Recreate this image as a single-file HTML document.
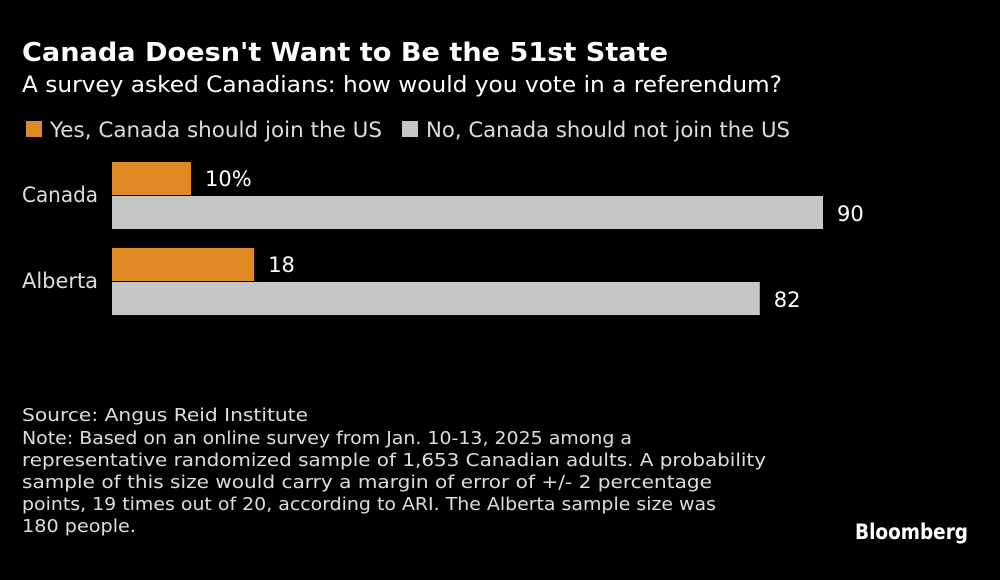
<!DOCTYPE html>
<html><head><meta charset="utf-8"><style>
html,body{margin:0;padding:0;background:#000;}
svg{display:block;font-family:"DejaVu Sans","Liberation Sans",sans-serif;}
</style></head><body>
<svg width="1000" height="580" viewBox="0 0 1000 580">
<rect width="1000" height="580" fill="#000"/>
<text x="22" y="61" fill="#fff" font-size="26" font-weight="bold" textLength="646" lengthAdjust="spacingAndGlyphs">Canada Doesn't Want to Be the 51st State</text>
<text x="22" y="92" fill="#fff" font-size="22" textLength="760" lengthAdjust="spacingAndGlyphs">A survey asked Canadians: how would you vote in a referendum?</text>
<g>
<rect x="26" y="121" width="16" height="16" fill="#e08a26"/>
<text x="50" y="137" fill="#ddd" font-size="21" textLength="332" lengthAdjust="spacingAndGlyphs">Yes, Canada should join the US</text>
<rect x="402" y="121" width="16" height="16" fill="#c6c6c6"/>
<text x="426" y="137" fill="#ddd" font-size="21" textLength="364" lengthAdjust="spacingAndGlyphs">No, Canada should not join the US</text>
</g>
<g id="bars"></g>
<g fill="#ddd" font-size="18">
<text x="22" y="421" textLength="286" lengthAdjust="spacingAndGlyphs">Source: Angus Reid Institute</text>
<text x="22" y="444" textLength="610" lengthAdjust="spacingAndGlyphs">Note: Based on an online survey from Jan. 10-13, 2025 among a</text>
<text x="22" y="466" textLength="744" lengthAdjust="spacingAndGlyphs">representative randomized sample of 1,653 Canadian adults. A probability</text>
<text x="22" y="488" textLength="690" lengthAdjust="spacingAndGlyphs">sample of this size would carry a margin of error of +/- 2 percentage</text>
<text x="22" y="510" textLength="694" lengthAdjust="spacingAndGlyphs">points, 19 times out of 20, according to ARI. The Alberta sample size was</text>
<text x="22" y="532" textLength="114" lengthAdjust="spacingAndGlyphs">180 people.</text>
</g>
<text x="855" y="539" fill="#fff" font-size="21" font-weight="bold" textLength="113" lengthAdjust="spacingAndGlyphs">Bloomberg</text>
</svg>
<script>
const categories = ["Canada", "Alberta"];
const yesValues = [10, 18];
const noValues = [90, 82];
const yesLabels = ["10%", "18"];
const noLabels = ["90", "82"];

const NS = "http://www.w3.org/2000/svg";
const g = document.getElementById("bars");
const x0 = 112, pxPerUnit = 7.9;
function xScale(v){ return v * pxPerUnit; }
function groupTop(i){ return 162 + i * 86; }
function mk(tag, attrs){ const e = document.createElementNS(NS, tag); for (const k in attrs) e.setAttribute(k, attrs[k]); return e; }

categories.forEach((c, i) => {
  const top = groupTop(i);
  const lab = mk("text", {x: 22, y: top + 40, fill: "#ddd", "font-size": 21, textLength: 76, lengthAdjust: "spacingAndGlyphs"});
  lab.textContent = c;
  
  
  g.appendChild(lab);

  const yb = mk("rect", {x: x0, y: top, width: xScale(yesValues[i]), height: 33, fill: "#e08a26"});
  
  
  g.appendChild(yb);
  const yl = mk("text", {x: x0 + xScale(yesValues[i]) + 14, y: top + 24, fill: "#fff", "font-size": 21});
  yl.textContent = yesLabels[i];
  
  
  g.appendChild(yl);

  const nb = mk("rect", {x: x0, y: top + 34, width: xScale(noValues[i]), height: 33, fill: "#c6c6c6"});
  
  
  g.appendChild(nb);
  const nl = mk("text", {x: x0 + xScale(noValues[i]) + 14, y: top + 59, fill: "#fff", "font-size": 21});
  nl.textContent = noLabels[i];
  
  
  g.appendChild(nl);
});
</script>
</body></html>
